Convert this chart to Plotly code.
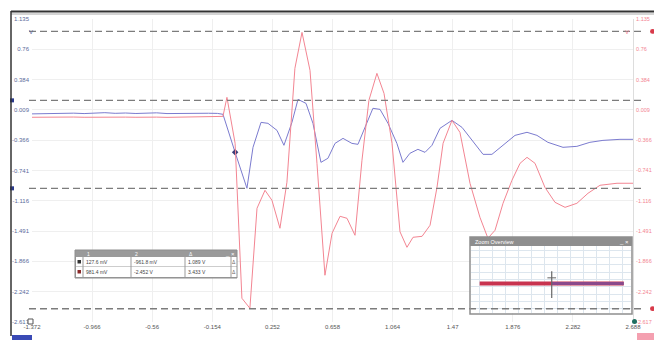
import plotly.graph_objects as go

# ---------------- data ----------------
time_a = [-1.372, -1.30, -1.23, -1.16, -1.09, -1.02, -0.95, -0.88, -0.81, -0.74,
          -0.67, -0.60, -0.53, -0.46, -0.39, -0.32, -0.25, -0.18, -0.12, -0.082,
          0.000, 0.080, 0.121, 0.175, 0.222, 0.283, 0.330, 0.384, 0.425, 0.479,
          0.526, 0.580, 0.627, 0.675, 0.729, 0.789, 0.830, 0.877, 0.931, 0.979,
          1.033, 1.093, 1.134, 1.181, 1.235, 1.283, 1.330, 1.384, 1.465, 1.533,
          1.600, 1.675, 1.735, 1.810, 1.891, 1.972, 2.039, 2.113, 2.215, 2.309,
          2.397, 2.485, 2.600, 2.688]
chan_a = [-0.040, -0.036, -0.038, -0.034, -0.031, -0.036, -0.030, -0.025, -0.033, -0.029,
          -0.035, -0.031, -0.027, -0.036, -0.033, -0.030, -0.034, -0.032, -0.034, -0.045,
          -0.516, -0.961, -0.454, -0.145, -0.157, -0.244, -0.429, -0.145, 0.140, 0.090,
          -0.157, -0.640, -0.590, -0.405, -0.343, -0.405, -0.417, -0.207, 0.029, 0.016,
          -0.157, -0.405, -0.640, -0.528, -0.479, -0.516, -0.429, -0.219, -0.120, -0.207,
          -0.368, -0.541, -0.541, -0.429, -0.306, -0.268, -0.306, -0.392, -0.454, -0.442,
          -0.392, -0.368, -0.355, -0.355]

time_b = [-1.372, -1.30, -1.23, -1.16, -1.09, -1.02, -0.95, -0.88, -0.81, -0.74,
          -0.67, -0.60, -0.53, -0.46, -0.39, -0.32, -0.25, -0.18, -0.12, -0.082,
          -0.055, 0.000, 0.046, 0.100, 0.148, 0.202, 0.249, 0.303, 0.350, 0.404,
          0.452, 0.506, 0.553, 0.607, 0.655, 0.709, 0.756, 0.810, 0.857, 0.904,
          0.958, 1.006, 1.060, 1.114, 1.161, 1.202, 1.263, 1.317, 1.364, 1.405,
          1.465, 1.519, 1.587, 1.654, 1.708, 1.756, 1.810, 1.870, 1.925, 1.972,
          2.026, 2.093, 2.161, 2.229, 2.309, 2.384, 2.465, 2.580, 2.688]
chan_b = [-0.082, -0.080, -0.083, -0.081, -0.079, -0.082, -0.080, -0.078, -0.081, -0.080,
          -0.082, -0.079, -0.080, -0.083, -0.081, -0.079, -0.080, -0.082, -0.080, -0.071,
          0.165, -0.404, -2.323, -2.447, -1.209, -0.986, -1.110, -1.456, -0.887, 0.524,
          0.969, 0.499, -0.652, -2.038, -1.518, -1.308, -1.333, -1.543, -0.615, 0.128,
          0.462, 0.214, -0.404, -1.500, -1.692, -1.568, -1.556, -1.419, -0.949, -0.404,
          -0.120, -0.269, -0.900, -1.321, -1.580, -1.481, -1.147, -0.863, -0.652, -0.578,
          -0.652, -0.949, -1.135, -1.197, -1.147, -1.023, -0.924, -0.899, -0.899]

trigger_t = [0.000]
trigger_v = [-0.516]

x_ticks = [-1.372, -0.966, -0.56, -0.154, 0.252, 0.658, 1.064, 1.47, 1.876, 2.282, 2.688]
y_ticks = [1.135, 0.76, 0.384, 0.009, -0.366, -0.741, -1.116, -1.491, -1.866, -2.242, -2.617]

cursors_a = [0.1276, -0.9618]
cursors_b = [0.9814, -2.452]

table_hdr = ["1", "2", "Δ"]
table_c1 = ["127.6 mV", "981.4 mV"]
table_c2 = ["-961.8 mV", "-2.452 V"]
table_c3 = ["1.089 V", "3.433 V"]
table_swatch = ["#333333", "#8b2a2a"]

ov_x_b = [0.0, 1.0]
ov_y_b = [-0.12, -0.12]
ov_x_a = [0.5, 1.0]
ov_y_a = [-0.12, -0.12]

# ---------------- styling ----------------
BLUE = "#7b7bcf"
RED = "#f38592"
FONT = "Liberation Sans"

W, H = 654, 340
L, R, T, B = 32, 21, 19, 18
PW, PH = W - L - R, H - T - B


def px(x):
    return (x - L) / PW


def py(y):
    return (H - B - y) / PH


fig = go.Figure()

fig.add_trace(go.Scatter(x=time_b, y=chan_b, mode="lines",
                         line=dict(color=RED, width=1), yaxis="y2", xaxis="x",
                         hoverinfo="skip", showlegend=False))
fig.add_trace(go.Scatter(x=time_a, y=chan_a, mode="lines",
                         line=dict(color=BLUE, width=1),
                         hoverinfo="skip", showlegend=False))
fig.add_trace(go.Scatter(x=trigger_t, y=trigger_v, mode="markers",
                         marker=dict(color="#3b3f7a", size=5, symbol="diamond"),
                         hoverinfo="skip", showlegend=False))

# overview inset
fig.add_trace(go.Scatter(x=ov_x_b, y=ov_y_b, mode="lines", xaxis="x3", yaxis="y3",
                         line=dict(color="#c8334f", width=4), showlegend=False, hoverinfo="skip"))
fig.add_trace(go.Scatter(x=ov_x_a, y=ov_y_a, mode="lines", xaxis="x3", yaxis="y3",
                         line=dict(color="#7b4f9a", width=3), opacity=0.8,
                         showlegend=False, hoverinfo="skip"))

shapes = []
annotations = []
for v in cursors_a:
    shapes.append(dict(type="line", xref="paper", yref="y", x0=px(29), x1=px(642), y0=v, y1=v,
                       line=dict(color="#7c7c7c", width=1.4, dash="7px,4px")))
for v in cursors_b:
    shapes.append(dict(type="line", xref="paper", yref="y2", x0=px(29), x1=px(642), y0=v, y1=v,
                       line=dict(color="#7c7c7c", width=1.4, dash="7px,4px")))
    shapes.append(dict(type="circle", xref="paper", yref="y2", x0=px(650), x1=px(655),
                       y0=v - 0.03, y1=v + 0.03, fillcolor="#d83a4a", line=dict(width=0)))
for v in cursors_a:
    shapes.append(dict(type="rect", xref="paper", yref="y", x0=px(10), x1=px(14),
                       y0=v - 0.025, y1=v + 0.025, fillcolor="#2b3a8c", line=dict(width=0)))

# window frame
shapes.append(dict(type="line", xref="paper", yref="paper", x0=px(11), x1=px(654),
                   y0=py(11.5), y1=py(11.5), line=dict(color="#333", width=2)))
shapes.append(dict(type="line", xref="paper", yref="paper", x0=px(11), x1=px(654),
                   y0=py(14), y1=py(14), line=dict(color="#aaa", width=1)))
shapes.append(dict(type="line", xref="paper", yref="paper", x0=px(11), x1=px(11),
                   y0=py(11), y1=py(336), line=dict(color="#333", width=1.5)))
shapes.append(dict(type="rect", xref="paper", yref="paper", x0=px(12), x1=px(32),
                   y0=py(340), y1=py(335), fillcolor="#3a4ab5", line=dict(width=0)))
shapes.append(dict(type="rect", xref="paper", yref="paper", x0=px(637), x1=px(654),
                   y0=py(340), y1=py(333), fillcolor="#f4a0b0", line=dict(width=0)))
shapes.append(dict(type="circle", xref="paper", yref="paper", x0=px(632), x1=px(637),
                   y0=py(324), y1=py(319), fillcolor="#1f6f60", line=dict(width=0)))
shapes.append(dict(type="rect", xref="paper", yref="paper", x0=px(28), x1=px(33),
                   y0=py(324), y1=py(319), fillcolor="white", line=dict(color="#555", width=1)))

# measurement table (shapes + text)
tx0, tx1 = 75, 237
ty_head, ty_r1, ty_r2, ty_end = 250, 257, 267, 277
col_edges = [75, 83, 131, 185, 231, 237]
shapes.append(dict(type="rect", xref="paper", yref="paper", x0=px(tx0), x1=px(tx1),
                   y0=py(ty_end + 1), y1=py(ty_head), fillcolor="#9a9a9a",
                   line=dict(color="#8e8e8e", width=1)))
for r0, r1 in [(ty_r1, ty_r2 - 0.5), (ty_r2, ty_end)]:
    for c0, c1 in zip(col_edges[1:-1], col_edges[2:]):
        shapes.append(dict(type="rect", xref="paper", yref="paper", x0=px(c0 + 0.5), x1=px(c1 - 0.5),
                           y0=py(r1), y1=py(r0), fillcolor="white", line=dict(width=0)))
    shapes.append(dict(type="rect", xref="paper", yref="paper", x0=px(76), x1=px(82.5),
                       y0=py(r1), y1=py(r0), fillcolor="white", line=dict(width=0)))
for i, col in enumerate(table_swatch):
    r0 = [ty_r1, ty_r2][i]
    shapes.append(dict(type="rect", xref="paper", yref="paper", x0=px(77.5), x1=px(81),
                       y0=py(r0 + 6.5), y1=py(r0 + 3), fillcolor=col, line=dict(width=0)))
for j, h in enumerate(table_hdr):
    annotations.append(dict(text=h, xref="paper", yref="paper", x=px(col_edges[j + 1] + 3),
                            y=py(ty_head + 3.5), xanchor="left", yanchor="middle", showarrow=False,
                            font=dict(family=FONT, size=5, color="white"), borderpad=0))
for j, colvals in enumerate([table_c1, table_c2, table_c3]):
    for i, t in enumerate(colvals):
        r0 = [ty_r1, ty_r2][i]
        annotations.append(dict(text=t, xref="paper", yref="paper", x=px(col_edges[j + 1] + 2),
                                y=py(r0 + 4.8), xanchor="left", yanchor="middle", showarrow=False,
                                font=dict(family=FONT, size=5, color="#444"), borderpad=0))
for i in range(2):
    r0 = [ty_r1, ty_r2][i]
    annotations.append(dict(text="Δ", xref="paper", yref="paper", x=px(234), y=py(r0 + 4.8),
                            yanchor="middle", showarrow=False, borderpad=0,
                            font=dict(family=FONT, size=5, color="#666")))
annotations.append(dict(text="_ ×", xref="paper", yref="paper", x=px(236), y=py(ty_head + 3.5),
                        xanchor="right", yanchor="middle", showarrow=False, borderpad=0,
                        font=dict(family=FONT, size=6, color="white")))

# overview window
shapes.append(dict(type="rect", xref="paper", yref="paper", x0=px(470), x1=px(632),
                   y0=py(314), y1=py(237), fillcolor="rgba(0,0,0,0)",
                   line=dict(color="#8e8e8e", width=1.5)))
shapes.append(dict(type="rect", xref="paper", yref="paper", x0=px(470), x1=px(632),
                   y0=py(246), y1=py(237), fillcolor="#8e8e8e", line=dict(width=0)))
shapes.append(dict(type="line", xref="x3", yref="y3", x0=0.5, x1=0.5, y0=-0.55, y1=0.25,
                   line=dict(color="#666", width=1.2)))
shapes.append(dict(type="line", xref="x3", yref="y3", x0=0.47, x1=0.53, y0=0.05, y1=0.05,
                   line=dict(color="#666", width=1)))

annotations += [
    dict(text="V", xref="paper", yref="paper", x=px(27), y=py(27), showarrow=False,
         font=dict(family=FONT, size=6, color="#5b6b9b")),
    dict(text="V", xref="paper", yref="paper", x=px(631), y=py(27), showarrow=False,
         font=dict(family=FONT, size=6, color=RED)),
    dict(text="Zoom Overview", xref="paper", yref="paper", x=px(474), y=py(241.5),
         xanchor="left", yanchor="middle", showarrow=False, borderpad=0,
         font=dict(family=FONT, size=5.5, color="white")),
    dict(text="_ ×", xref="paper", yref="paper", x=px(630), y=py(241.5),
         xanchor="right", yanchor="middle", showarrow=False, borderpad=0,
         font=dict(family=FONT, size=6, color="white")),
]

axis_common = dict(showline=False, zeroline=False, ticks="", showgrid=True,
                   gridcolor="#efefef", gridwidth=1)

fig.update_layout(
    width=W, height=H,
    margin=dict(l=L, r=R, t=T, b=B, autoexpand=False),
    paper_bgcolor="white", plot_bgcolor="white",
    font=dict(family=FONT, size=6, color="#555"),
    showlegend=False,
    xaxis=dict(range=[x_ticks[0], x_ticks[-1]], tickvals=x_ticks,
               ticktext=[str(t) for t in x_ticks],
               tickfont=dict(family=FONT, size=6, color="#555"),
               mirror=True, **axis_common),
    yaxis=dict(range=[y_ticks[-1], y_ticks[0]], tickvals=y_ticks,
               ticktext=[str(t) for t in y_ticks],
               tickfont=dict(family=FONT, size=6, color="#5b6b9b"),
               ticklabelstandoff=2, **axis_common),
    yaxis2=dict(range=[y_ticks[-1], y_ticks[0]], tickvals=y_ticks,
                ticktext=[str(t) for t in y_ticks], overlaying="y", side="right",
                tickfont=dict(family=FONT, size=5.5, color=RED),
                showgrid=False, zeroline=False, ticks="", ticklabelstandoff=1,
                showline=True, linecolor="#dddddd"),
    xaxis3=dict(domain=[px(471), px(631)], anchor="y3", range=[-0.06, 1.05],
                showticklabels=False, showgrid=True, gridcolor="#dde6ee", dtick=0.09,
                zeroline=False, ticks=""),
    yaxis3=dict(domain=[py(313), py(246)], anchor="x3", range=[-1, 1],
                showticklabels=False, showgrid=True, gridcolor="#dde6ee", dtick=0.22,
                zeroline=False, ticks=""),
    shapes=shapes,
    annotations=annotations,
)

fig.write_html("out.html")
